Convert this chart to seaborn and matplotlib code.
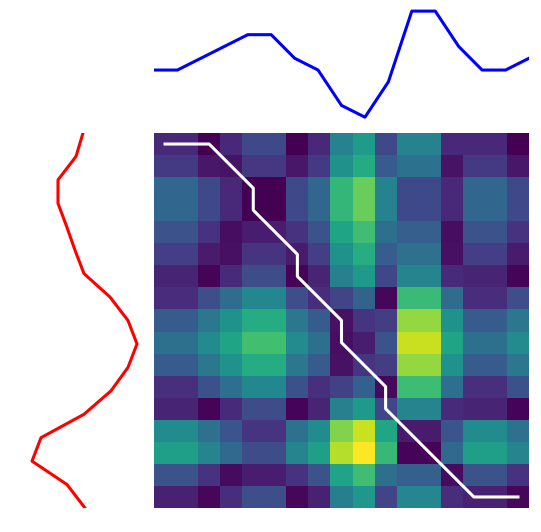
import numpy as np
import seaborn as sns
import matplotlib
matplotlib.use("Agg")
import matplotlib.pyplot as plt

# Two signals
top_signal = [0, 0, 1, 2, 3, 3, 1, 0, -3, -4, -1, 5, 5, 2, 0, 0, 1]
left_signal = [1.0, 1.56, 3.0, 3.0, 2.3, 1.64, 0.92, -1.16, -2.6, -3.32,
               -2.6, -1.24, 0.92, 4.36, 5.08, 2.28, 0.84]

# Warping path (row index into left signal, column index into top signal)
path_rows = [0, 0, 0, 1, 2, 3, 4, 5, 6, 7, 8, 9, 10, 11, 12, 13, 14, 15, 16, 16, 16]
path_cols = [0, 1, 2, 3, 4, 4, 5, 6, 6, 7, 8, 8, 9, 10, 10, 11, 12, 13, 14, 15, 16]

x = np.array(top_signal)
y = np.array(left_signal)
cost = np.abs(x[None, :] - y[:, None])

fig = plt.figure(figsize=(5.41, 5.32), dpi=100)

# Cost matrix
ax_main = fig.add_axes([154 / 541, 24 / 532, 375 / 541, 375 / 532])
sns.heatmap(cost, cmap="viridis", cbar=False, xticklabels=False,
            yticklabels=False, ax=ax_main)
ax_main.plot(np.array(path_cols) + 0.5, np.array(path_rows) + 0.5,
             color="white", linewidth=2.2)
ax_main.axis("off")

# Top signal
ax_top = fig.add_axes([154 / 541, (532 - 122.5) / 532, 375 / 541, 116.7 / 532])
sns.lineplot(x=np.arange(len(x)), y=x, color="blue", linewidth=2.2, ax=ax_top)
ax_top.set_xlim(0, len(x) - 1)
ax_top.axis("off")

# Left signal (rotated)
ax_left = fig.add_axes([26.75 / 541, 24 / 532, 115.5 / 541, 375 / 532])
ax_left.plot(y, np.arange(len(y)), color="red", linewidth=2.2)
ax_left.set_ylim(len(y) - 1, 0)
ax_left.invert_xaxis()
ax_left.axis("off")

fig.savefig("out.png", dpi=100)
